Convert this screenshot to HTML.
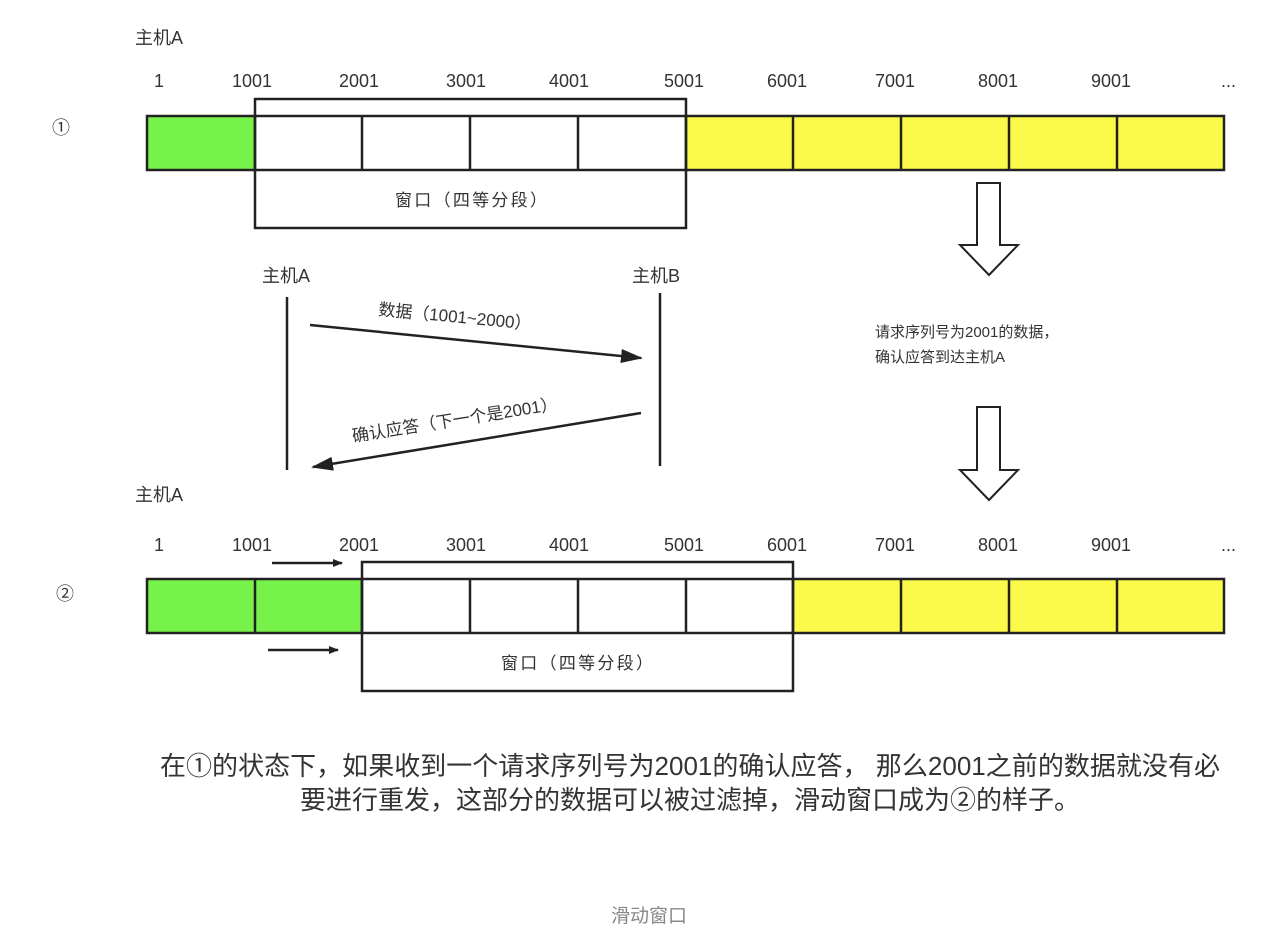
<!DOCTYPE html>
<html><head><meta charset="utf-8"><style>
body{margin:0;background:#fff;}
svg text{font-family:"Liberation Sans","Noto Sans CJK SC",sans-serif;fill:#333;}
</style></head><body>
<svg width="1288" height="938" viewBox="0 0 1288 938" xmlns="http://www.w3.org/2000/svg">
<defs>
<marker id="ah" markerWidth="10" markerHeight="8" refX="9" refY="4" orient="auto" markerUnits="userSpaceOnUse" viewBox="0 0 10 8"><path d="M0,0 L10,4 L0,8 z" fill="#222"/></marker>
<marker id="ah2" markerWidth="22" markerHeight="14" refX="20" refY="7" orient="auto" markerUnits="userSpaceOnUse" viewBox="0 0 22 14"><path d="M0,0 L22,7 L0,14 z" fill="#222"/></marker>
</defs>
<g font-size="18">
<text x="135" y="44">主机A</text>
<text x="154" y="87">1</text><text x="232" y="87">1001</text><text x="339" y="87">2001</text><text x="446" y="87">3001</text><text x="549" y="87">4001</text><text x="664" y="87">5001</text><text x="767" y="87">6001</text><text x="875" y="87">7001</text><text x="978" y="87">8001</text><text x="1091" y="87">9001</text><text x="1221" y="87">...</text>
<text x="52" y="134">①</text>
</g>
<g stroke="#222" stroke-width="2.5">
<rect x="147" y="116" width="108" height="54" fill="#76f24a"/>
<rect x="255" y="116" width="431" height="54" fill="#fff"/>
<rect x="686" y="116" width="538" height="54" fill="#fbfa4a"/>
<path d="M362 116V170M470 116V170M578 116V170M793 116V170M901 116V170M1009 116V170M1117 116V170"/>
<rect x="255" y="99" width="431" height="129" fill="none"/>
</g>
<text x="395" y="206" font-size="17" textLength="152" lengthAdjust="spacing">窗口（四等分段）</text>

<g font-size="18"><text x="262" y="282">主机A</text><text x="632" y="282">主机B</text></g>
<g stroke="#222" stroke-width="2.5"><path d="M287 297V470M660 293V466"/>
<line x1="310" y1="325" x2="641" y2="358" marker-end="url(#ah2)"/>
<line x1="641" y1="413" x2="313" y2="467" marker-end="url(#ah2)"/></g>
<text x="378" y="315" font-size="17" transform="rotate(5.5 378 315)">数据（1001~2000）</text>
<text x="353" y="442" font-size="17" transform="rotate(-9 353 442)">确认应答（下一个是2001）</text>

<g stroke="#222" stroke-width="2" fill="#fff">
<path d="M977 183H1000V245H1018L989 275L960 245H977Z"/>
<path d="M977 407H1000V470H1018L989 500L960 470H977Z"/>
</g>
<g font-size="15"><text x="875" y="337">请求序列号为2001的数据，</text><text x="875" y="362">确认应答到达主机A</text></g>

<g font-size="18">
<text x="135" y="501">主机A</text>
<text x="154" y="551">1</text><text x="232" y="551">1001</text><text x="339" y="551">2001</text><text x="446" y="551">3001</text><text x="549" y="551">4001</text><text x="664" y="551">5001</text><text x="767" y="551">6001</text><text x="875" y="551">7001</text><text x="978" y="551">8001</text><text x="1091" y="551">9001</text><text x="1221" y="551">...</text>
<text x="56" y="600">②</text>
</g>
<g stroke="#222" stroke-width="2.5">
<rect x="147" y="579" width="215" height="54" fill="#76f24a"/>
<rect x="362" y="579" width="431" height="54" fill="#fff"/>
<rect x="793" y="579" width="431" height="54" fill="#fbfa4a"/>
<path d="M255 579V633M470 579V633M578 579V633M686 579V633M901 579V633M1009 579V633M1117 579V633"/>
<rect x="362" y="562" width="431" height="129" fill="none"/>
<line x1="272" y1="563" x2="342" y2="563" marker-end="url(#ah)"/>
<line x1="268" y1="650" x2="338" y2="650" marker-end="url(#ah)"/>
</g>
<text x="501" y="669" font-size="17" textLength="152" lengthAdjust="spacing">窗口（四等分段）</text>

<g font-size="26"><text x="160" y="775" textLength="1060" lengthAdjust="spacing">在①的状态下，如果收到一个请求序列号为2001的确认应答， 那么2001之前的数据就没有必</text><text x="300" y="809" textLength="780" lengthAdjust="spacing">要进行重发，这部分的数据可以被过滤掉，滑动窗口成为②的样子。</text></g>
<text x="649" y="922" font-size="19" text-anchor="middle" style="fill:#888">滑动窗口</text>
</svg>
</body></html>
